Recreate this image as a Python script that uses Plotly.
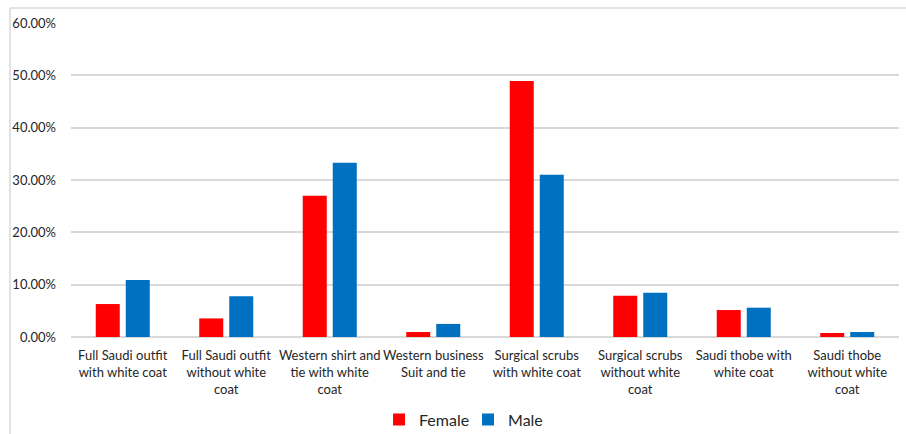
import plotly.graph_objects as go

categories = [
    "Full Saudi outfit<br>with white coat",
    "Full Saudi outfit<br>without white<br>coat",
    "Western shirt and<br>tie with white<br>coat",
    "Western business<br>Suit and tie",
    "Surgical scrubs<br>with white coat",
    "Surgical scrubs<br>without white<br>coat",
    "Saudi thobe with<br>white coat",
    "Saudi thobe<br>without white<br>coat",
]
female = [0.063, 0.0355, 0.270, 0.0095, 0.489, 0.079, 0.0515, 0.0076]
male = [0.109, 0.078, 0.333, 0.025, 0.310, 0.0845, 0.056, 0.0095]
y_ticks = [0, 0.1, 0.2, 0.3, 0.4, 0.5, 0.6]

FONT = "Lato, Carlito, Calibri, sans-serif"
TEXT = "#262626"

fig = go.Figure()
fig.add_trace(go.Bar(name="Female", x=categories, y=female,
                     marker=dict(color="#ff0000", line=dict(width=0))))
fig.add_trace(go.Bar(name="Male", x=categories, y=male,
                     marker=dict(color="#0070c0", line=dict(width=0))))

fig.update_layout(
    width=906, height=434,
    margin=dict(l=71, r=7, t=23, b=97, autoexpand=False),
    paper_bgcolor="white", plot_bgcolor="white",
    barmode="group", bargap=0.42, bargroupgap=0.2,
    font=dict(family=FONT, color=TEXT, size=13),
    showlegend=True,
    legend=dict(orientation="h", x=0.372, xanchor="left", y=-0.263, yanchor="middle",
                font=dict(size=16, family=FONT, color=TEXT),
                itemwidth=30, entrywidth=44, entrywidthmode="pixels",
                traceorder="normal"),
    xaxis=dict(showgrid=False, showline=False, ticks="", tickangle=0,
               automargin=False, ticklabelstandoff=9,
               tickfont=dict(size=13, family=FONT, color=TEXT)),
    yaxis=dict(range=[0, 0.6], tickvals=y_ticks, tickformat=".2%",
               showgrid=True, gridcolor="#d9d9d9", gridwidth=1.5,
               zeroline=True, zerolinecolor="#d9d9d9", zerolinewidth=1.5,
               showline=False, ticks="", ticklabelstandoff=14, automargin=False,
               tickfont=dict(size=13, family=FONT, color=TEXT)),
    shapes=[
        dict(type="line", xref="paper", yref="paper",
             x0=-61 / 828, x1=1.02, y0=1 + 15 / 314, y1=1 + 15 / 314,
             line=dict(color="#d9d9d9", width=1.5)),
        dict(type="line", xref="paper", yref="paper",
             x0=-61 / 828, x1=-61 / 828, y0=1 + 15 / 314, y1=-0.35,
             line=dict(color="#d9d9d9", width=1.5)),
    ],
)

fig.write_html("out.html")
